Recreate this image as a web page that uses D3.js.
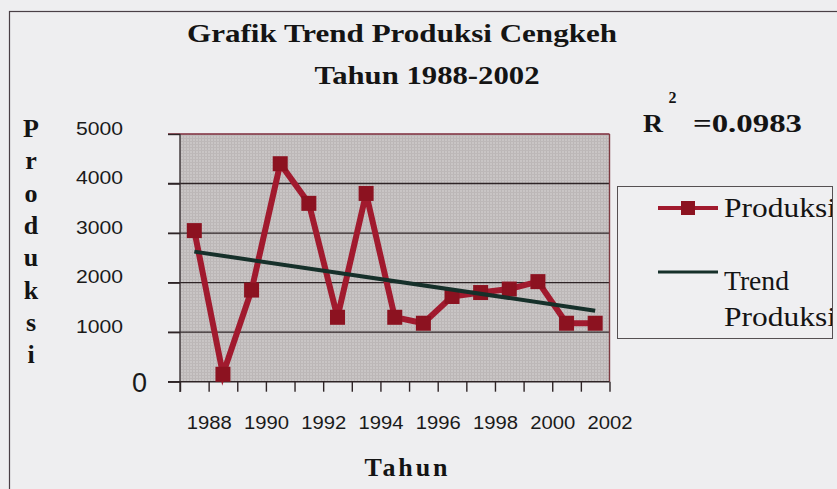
<!DOCTYPE html>
<html>
<head>
<meta charset="utf-8">
<script src="https://d3js.org/d3.v7.min.js"></script>
<style>
  body { margin: 0; background: #eeeef0; }
  svg { display: block; }
  .serif { font-family: "Liberation Serif", "Times New Roman", serif; }
  .sans { font-family: "Liberation Sans", Arial, sans-serif; }
</style>
</head>
<body>
<svg width="837" height="489"></svg>
<script>
// data
const years = [1988,1989,1990,1991,1992,1993,1994,1995,1996,1997,1998,1999,2000,2001,2002];
const produksi = [3050,150,1850,4400,3600,1300,3800,1300,1180,1720,1800,1870,2020,1180,1180];
const trendYears = [1988, 2002];
const trendVals = [2626, 1434];
const yTicks = [0,1000,2000,3000,4000,5000];
const xLabelYears = [1988,1990,1992,1994,1996,1998,2000,2002];

var svg = d3.select("svg");

// outer chart frame (only left/top visible in the scan)
svg.append("rect").attr("x", 9.5).attr("y", 11.5).attr("width", 900).attr("height", 600)
    .attr("fill", "none").attr("stroke", "#4a4046").attr("stroke-width", 1.2);

var x = d3.scaleLinear().domain([1987.5, 2002.5]).range([180, 609.5]);
var y = d3.scaleLinear().domain([0, 5000]).range([381.7, 134]);

// plot area
var defs = svg.append("defs");
var pat = defs.append("pattern").attr("id", "tex").attr("width", 3).attr("height", 3)
    .attr("patternUnits", "userSpaceOnUse");
pat.append("rect").attr("width", 3).attr("height", 3).attr("fill", "#c9c5c5");
pat.append("rect").attr("width", 1).attr("height", 3).attr("fill", "#bbb6b6");
pat.append("rect").attr("width", 3).attr("height", 1).attr("fill", "#bdb8b8");

svg.append("rect").attr("x", x(1987.5)).attr("y", y(5000))
    .attr("width", x(2002.5) - x(1987.5)).attr("height", y(0) - y(5000))
    .attr("fill", "url(#tex)");

// gridlines
svg.append("g").selectAll("line").data(yTicks.slice(1)).enter().append("line")
    .attr("x1", 168).attr("x2", x(2002.5))
    .attr("y1", d => y(d)).attr("y2", d => y(d))
    .attr("stroke", d => d == 5000 ? "#7d2a3a" : "#2e2426").attr("stroke-width", 1.4);

// plot borders
svg.append("line").attr("x1", x(2002.5)).attr("x2", x(2002.5)).attr("y1", y(5000)).attr("y2", y(0))
    .attr("stroke", "#7d3a40").attr("stroke-width", 1.4);

// y axis
var yAxis = svg.append("g").attr("transform", "translate(" + x(1987.5) + ",0)")
    .call(d3.axisLeft(y).tickValues(yTicks).tickSize(12).tickSizeOuter(0).tickFormat(d3.format("d")));
yAxis.select(".domain").attr("stroke", "#3a3234").attr("stroke-width", 1.4).attr("d", "M0," + y(5000) + "V392");
yAxis.selectAll(".tick line").attr("stroke", "#2e2426").attr("stroke-width", 1.4);
yAxis.selectAll(".tick text")
    .attr("class", "sans")
    .attr("x", d => d == 0 ? -33 : -57)
    .attr("dy", d => d == 0 ? "0.35em" : "0")
    .attr("text-anchor", "end")
    .style("font-size", d => d == 0 ? "27px" : "18px")
    .attr("textLength", d => d == 0 ? null : 47)
    .attr("lengthAdjust", "spacingAndGlyphs")
    .attr("fill", "#1a1a1a");

// x axis (ticks between categories)
var bounds = years.map(d => d - 0.5).concat([2002.5]);
var xAxis = svg.append("g").attr("transform", "translate(0," + y(0) + ")")
    .call(d3.axisBottom(x).tickValues(bounds).tickSize(10).tickSizeOuter(0)
        .tickFormat(d => xLabelYears.indexOf(d - 0.5) >= 0 ? String(d - 0.5) : ""));
xAxis.select(".domain").attr("stroke", "#2e2426").attr("stroke-width", 1.4).attr("d", "M168,0H" + x(2002.5));
xAxis.selectAll(".tick line").attr("stroke", "#2e2426").attr("stroke-width", 1.4);
xAxis.selectAll(".tick text")
    .attr("class", "sans")
    .attr("y", 47).attr("dy", "0")
    .style("font-size", "18px")
    .attr("textLength", d => xLabelYears.indexOf(d - 0.5) >= 0 ? 45 : null)
    .attr("lengthAdjust", "spacingAndGlyphs")
    .attr("fill", "#1a1a1a");

// series
var line = d3.line().x((d, i) => x(years[i])).y(d => y(d));
svg.append("path").datum(produksi).attr("d", line)
    .attr("fill", "none").attr("stroke", "#a11a2e").attr("stroke-width", 6).attr("stroke-linejoin", "miter");

var ms = 15;
svg.append("g").selectAll("rect").data(produksi).enter().append("rect")
    .attr("x", (d, i) => x(years[i]) - ms / 2)
    .attr("y", d => y(d) - ms / 2)
    .attr("width", ms).attr("height", ms)
    .attr("fill", "#8c1220");

// trend line
svg.append("path").datum(trendVals)
    .attr("d", d3.line().x((d, i) => x(trendYears[i])).y(d => y(d)))
    .attr("fill", "none").attr("stroke", "#16302a").attr("stroke-width", 4);

// titles
svg.append("text").attr("class", "serif").attr("x", 402).attr("y", 42)
    .attr("text-anchor", "middle").style("font-size", "26px").style("font-weight", "bold")
    .attr("textLength", 430).attr("lengthAdjust", "spacingAndGlyphs")
    .attr("fill", "#141414").text("Grafik Trend Produksi Cengkeh");
svg.append("text").attr("class", "serif").attr("x", 427).attr("y", 84)
    .attr("text-anchor", "middle").style("font-size", "26px").style("font-weight", "bold")
    .attr("textLength", 225).attr("lengthAdjust", "spacingAndGlyphs")
    .attr("fill", "#141414").text("Tahun 1988-2002");

svg.append("text").attr("class", "serif").attr("x", 406).attr("y", 476)
    .attr("text-anchor", "middle").style("font-size", "26px").style("font-weight", "bold")
    .attr("textLength", 83).attr("lengthAdjust", "spacing")
    .attr("fill", "#141414").text("Tahun");

// vertical y-axis title, stacked letters
svg.append("g").selectAll("text").data("Produksi".split("")).enter().append("text")
    .attr("class", "serif").attr("x", 31).attr("y", (d, i) => 137 + i * 32.3)
    .attr("text-anchor", "middle").style("font-size", "26px").style("font-weight", "bold")
    .attr("fill", "#141414").text(d => d);

// R squared
svg.append("text").attr("class", "serif").attr("x", 643).attr("y", 132)
    .style("font-size", "25px").style("font-weight", "bold")
    .attr("textLength", 20).attr("lengthAdjust", "spacingAndGlyphs")
    .attr("fill", "#141414").text("R");
svg.append("text").attr("class", "serif").attr("x", 672.5).attr("y", 103)
    .attr("text-anchor", "middle").style("font-size", "16px").style("font-weight", "bold")
    .attr("fill", "#141414").text("2");
svg.append("text").attr("class", "serif").attr("x", 693).attr("y", 132)
    .style("font-size", "25px").style("font-weight", "bold")
    .attr("textLength", 109).attr("lengthAdjust", "spacingAndGlyphs")
    .attr("fill", "#141414").text("=0.0983");

// legend
defs.append("clipPath").attr("id", "legclip").append("rect")
    .attr("x", 617).attr("y", 186).attr("width", 215).attr("height", 152);
svg.append("rect").attr("x", 617.5).attr("y", 186.5).attr("width", 215).attr("height", 152)
    .attr("fill", "#efeff1").attr("stroke", "#555052").attr("stroke-width", 1);
var leg = svg.append("g").attr("clip-path", "url(#legclip)");
leg.append("line").attr("x1", 658).attr("x2", 718).attr("y1", 208).attr("y2", 208)
    .attr("stroke", "#a11a2e").attr("stroke-width", 4);
leg.append("rect").attr("x", 681).attr("y", 201).attr("width", 14).attr("height", 14).attr("fill", "#8c1220");
leg.append("line").attr("x1", 658).attr("x2", 718).attr("y1", 272).attr("y2", 272)
    .attr("stroke", "#16302a").attr("stroke-width", 3);
var legText = [["Produksi", 217], ["Trend", 290], ["Produksi", 326]];
leg.selectAll("text.lt").data(legText).enter().append("text").attr("class", "serif")
    .attr("x", 724).attr("y", d => d[1]).style("font-size", "27px")
    .attr("textLength", 112).attr("lengthAdjust", "spacingAndGlyphs")
    .attr("fill", "#141414").text(d => d[0]);
leg.selectAll("text").filter(d => d[0] == "Trend").attr("textLength", 65);
</script>
</body>
</html>
